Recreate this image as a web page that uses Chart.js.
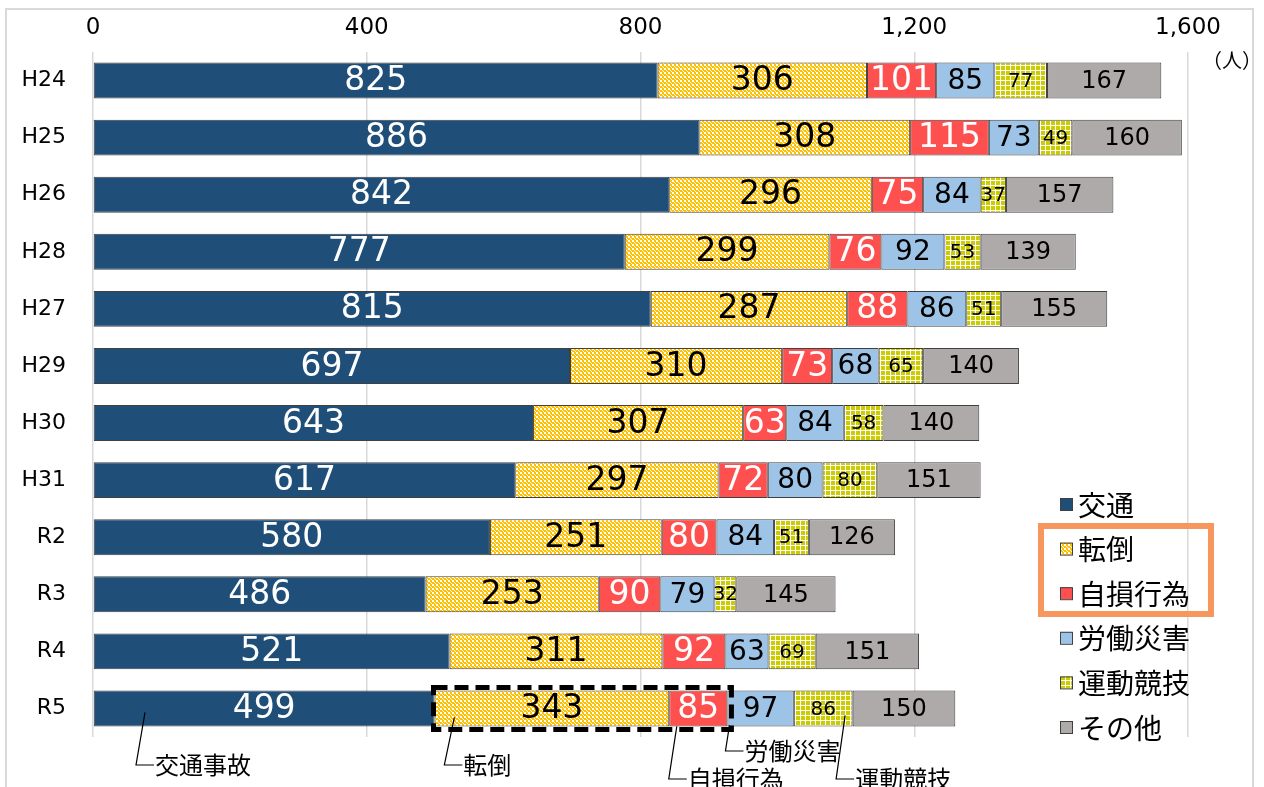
<!DOCTYPE html>
<html><head><meta charset="utf-8">
<script src="https://cdn.jsdelivr.net/npm/chart.js@4"></script>
<style>html,body{margin:0;padding:0;background:#fff;}canvas{display:block}</style>
</head><body>
<canvas id="c" width="1264" height="787"></canvas>
<script>
// ---- data ----
const categories = ['H24','H25','H26','H28','H27','H29','H30','H31','R2','R3','R4','R5'];
const seriesNames = ['交通','転倒','自損行為','労働災害','運動競技','その他'];
const traffic       = [825,886,842,777,815,697,643,617,580,486,521,499];
const falls         = [306,308,296,299,287,310,307,297,251,253,311,343];
const selfInflicted = [101,115,75,76,88,73,63,72,80,90,92,85];
const workAccident  = [85,73,84,92,86,68,84,80,84,79,63,97];
const sports        = [77,49,37,53,51,65,58,80,51,32,69,86];
const other         = [167,160,157,139,155,140,140,151,126,145,151,150];
const xTicks = [0,400,800,1200,1600];
const unitLabel = '（人）';
const calloutLabels = ['交通事故','転倒','自損行為','労働災害','運動競技'];
const calloutValues = [76,528,853,930,1099];   // anchor positions on the last bar (data units)

// ---- styles ----
const NUMF = "'DejaVu Sans','Noto Sans CJK JP',sans-serif";
const JPF = "'Noto Sans CJK JP','DejaVu Sans',sans-serif";
const ctx0 = document.getElementById('c').getContext('2d');
function tile(size, draw){const c=document.createElement('canvas');c.width=c.height=size;draw(c.getContext('2d'));return ctx0.createPattern(c,'repeat');}
const checkerPat = tile(4,g=>{g.fillStyle='#FFC000';g.fillRect(0,0,4,4);g.fillStyle='#FFFFFF';g.fillRect(0,0,2,2);g.fillRect(2,2,1,1);g.fillRect(3,3,1,1);});
const plaidPat = tile(5,g=>{g.fillStyle='#FFFFFF';g.fillRect(0,0,5,5);g.fillStyle='#CCCC00';g.fillRect(1,1,4,4);});
const fills = ['#1F4E79',checkerPat,'#FF5050','#9DC3E6',plaidPat,'#AEAAAA'];
const labelFont = [33,33,33,28,20,24];
const labelColor = ['#FFFFFF','#000000','#FFFFFF','#000000','#000000','#000000'];
const seriesData = [traffic,falls,selfInflicted,workAccident,sports,other];
// callout layout: [top offset from bar center, bottom y (px), slant]
const calloutLayout = [[4,765,9],[9,765,10],[18,779,8],[17,751,4],[7,779,9]];

const datasets = seriesNames.map((n,i)=>({
  label:n, data:seriesData[i], backgroundColor:fills[i],
  borderColor:'#404040', borderWidth:1, borderSkipped:false,
  barPercentage:0.63, categoryPercentage:1
}));

const decor = {
  id:'decor',
  beforeDraw(chart){
    const c=chart.ctx; c.save(); c.fillStyle='#fff'; c.fillRect(0,0,chart.width,chart.height);
    c.strokeStyle='#D9D9D9'; c.lineWidth=2; c.strokeRect(6,9,1247,800); c.restore();
  },
  afterDatasetsDraw(chart){
    const c=chart.ctx; c.save();
    c.textAlign='center'; c.textBaseline='middle';
    chart.data.datasets.forEach((ds,i)=>{
      const meta=chart.getDatasetMeta(i);
      meta.data.forEach((el,j)=>{
        c.font = labelFont[i]+'px '+NUMF;
        c.fillStyle = labelColor[i];
        c.fillText(String(ds.data[j]), (el.x+el.base)/2, el.y+1);
      });
    });
    // dashed highlight on last bar (転倒 + 自損行為)
    const last = categories.length-1;
    const e1 = chart.getDatasetMeta(1).data[last], e2 = chart.getDatasetMeta(2).data[last];
    const x0 = e1.base-1, x1 = e2.x+4, yT = e1.y-e1.height/2-3, yB = e1.y+e1.height/2+3;
    c.setLineDash([14,7]); c.lineWidth=5; c.strokeStyle='#000';
    c.strokeRect(x0,yT,x1-x0,yB-yT); c.setLineDash([]);
    // callouts
    const xs = chart.scales.x; const yc = e1.y;
    c.lineWidth=1.2; c.strokeStyle='#000'; c.fillStyle='#000';
    c.font='24px '+JPF; c.textAlign='left'; c.textBaseline='middle';
    calloutLabels.forEach((t,k)=>{
      const [off,by,sl]=calloutLayout[k];
      const x = xs.getPixelForValue(calloutValues[k]);
      c.beginPath(); c.moveTo(x, yc+off); c.lineTo(x-sl, by); c.lineTo(x-sl+18, by); c.stroke();
      c.fillText(t, x-sl+19, by);
    });
    // legend
    const lx=1060, ly0=504, step=44.6;
    seriesNames.forEach((n,i)=>{
      const y=ly0+i*step;
      c.fillStyle=fills[i]; c.fillRect(lx,y-6,12,12);
      c.strokeStyle='#404040'; c.lineWidth=1; c.strokeRect(lx+0.5,y-5.5,12,12);
      c.fillStyle='#000'; c.font='28px '+JPF; c.fillText(n, lx+18, y+1);
    });
    c.strokeStyle='#F7975E'; c.lineWidth=6; c.strokeRect(1041,526,170,88);
    // unit
    c.font='20px '+JPF; c.fillStyle='#000'; c.textAlign='left';
    c.fillText(unitLabel, 1202, 60);
    c.restore();
  }
};

new Chart(ctx0,{
  type:'bar',
  data:{labels:categories, datasets},
  options:{
    indexAxis:'y', responsive:false, animation:false, devicePixelRatio:1,
    layout:{padding:{left:0,right:76,top:0,bottom:50}},
    plugins:{legend:{display:false}, tooltip:{enabled:false}},
    scales:{
      x:{position:'top', stacked:true, min:0, max:1600,
        afterBuildTicks:s=>{s.ticks=xTicks.map(v=>({value:v}));},
        afterFit:s=>{s.height=52;},
        ticks:{font:{family:NUMF,size:23}, color:'#000', padding:10,
          callback:v=>Number(v).toLocaleString('en-US'), maxRotation:0},
        grid:{color:'#D9D9D9', lineWidth:1.5, drawTicks:false},
        border:{display:false}},
      y:{stacked:true,
        afterFit:s=>{s.width=93;},
        ticks:{font:{family:NUMF,size:22}, color:'#000', padding:19},
        grid:{display:false}, border:{display:false}}
    }
  },
  plugins:[decor]
});
</script>
</body></html>
